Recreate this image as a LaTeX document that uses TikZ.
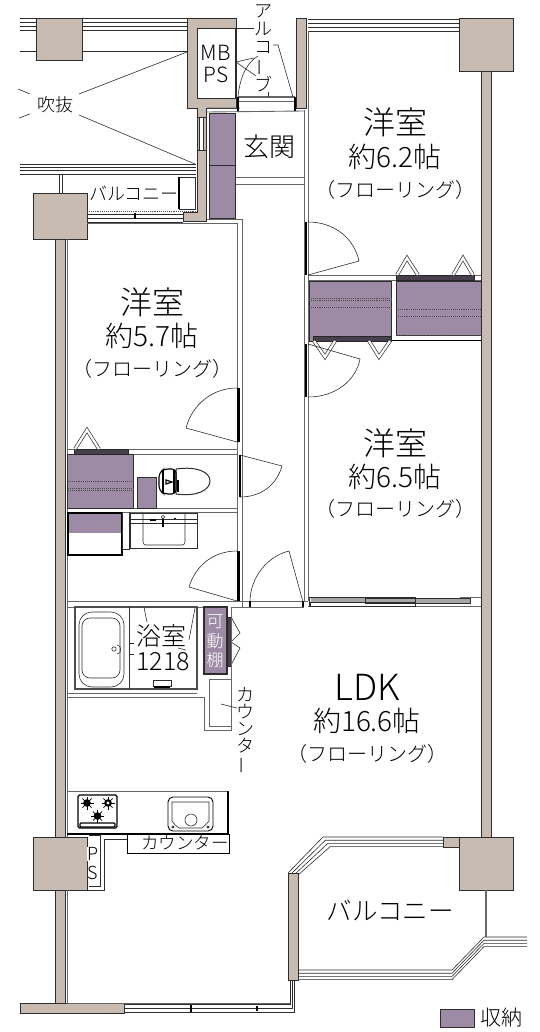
\documentclass[tikz,border=0pt]{standalone}
\usepackage{fontspec}
\setmainfont{Noto Sans CJK JP Light}
\usepackage{tikz}
\usetikzlibrary{calc,positioning}
\definecolor{wallcol}{RGB}{200,187,178}
\definecolor{storecol}{RGB}{157,139,166}
\definecolor{linecol}{RGB}{45,45,45}
\newcommand{\vbar}{\rotatebox[origin=c]{90}{ー}}
\tikzset{
  x=1pt, y=-1pt,
  wall/.style={fill=wallcol, draw=linecol, line width=0.8pt},
  store/.style={fill=storecol, draw=linecol, line width=0.9pt},
  fine/.style={draw=linecol, line width=0.6pt},
  thin wall/.style={draw=black!60, line width=0.9pt},
  heavy/.style={draw=black, line width=1.6pt},
  bar/.style={draw=black!85, fill=storecol!45!black, line width=0.5pt},
  folded/.style={draw=black!80, line width=0.7pt, double=white, double distance=2.2pt, line join=miter},
  dots/.style={draw=black!70, line width=0.9pt, densely dotted},
  room/.style={font=\fontsize{32}{32}\selectfont, inner sep=0pt},
  area/.style={font=\fontsize{28}{28}\selectfont, inner sep=0pt},
  floorlabel/.style={font=\fontsize{20}{20}\selectfont, inner sep=0pt},
  small/.style={font=\fontsize{18}{18}\selectfont, inner sep=0pt}
}
\begin{document}
\begin{tikzpicture}
  \useasboundingbox (0,0) rectangle (539,1032);

  % railings
  \foreach \d in {0,4,8,12} {
    \draw[fine] (20,18+\d) -- (187,18+\d);
    \draw[fine] (20,164+\d*.85) -- (196,164+\d*.85);
    \draw[fine] (308,19+\d) -- (459,19+\d);
    \draw[fine] (298,970+\d*.8) -- (452,970+\d*.8) -- (484,937+\d*.8) -- (527,937+\d*.8);
    \draw[fine] (288+\d*.75,873+\d*.25) -- (323+\d*.6,837+\d*.8) -- (443,837+\d*.8);
  }
  \draw[fine] (20,51) -- (187,51);
  \draw[fine] (59,174) -- (59,193) (62,174) -- (62,193);

  % walls and columns
  \foreach \cx/\cy/\cw/\ch in {36/18/46/42, 33/193/54/46, 459/18/54/53, 33/837/54/53, 459/837/54/53} {
    \path[wall] (\cx,\cy) rectangle ++(\cw,\ch);
  }
  \path[wall] (55,239) rectangle (65,837);
  \path[wall] (55,890) rectangle (65,1003);
  \path[wall] (481,71) rectangle (491,837);
  \path[wall] (20,1003) rectangle (124,1013);
  \path[wall] (288,873) rectangle (298,980);
  \path[wall] (443,837) -- (459,837) -- (459,847) -- (443,847) -- cycle;
  \path[wall] (296,18) -- (306,18) -- (306,108) -- (296,108) -- cycle;
  \path[wall] (187,18) -- (236,18) -- (236,108) -- (206,108) -- (206,221) -- (183,221)
    -- (183,212) -- (197,212) -- (197,108) -- (187,108) -- cycle;
  \path[fill=white, fine] (197,28) rectangle (235,98);
  \path[fill=white, fine] (199,117) rectangle (203,150);
  \draw[fine] (197,117) -- (206,117) (197,150) -- (206,150);
  \draw[draw=black!60, line width=2pt] (486,890) -- (486,937);

  % inner wall lines
  \draw[thin wall] (308,31) -- (308,601);
  \draw[thin wall] (304,110) -- (304,601);
  \draw[thin wall] (67,239) -- (67,837);
  \draw[thin wall] (237,223) -- (237,601);
  \draw[thin wall] (242,219) -- (242,607);
  \draw[thin wall] (67,890) -- (67,1003) -- (290,1003) -- (290,980);
  \draw[thin wall] (87,223) -- (237,223);
  \draw[thin wall] (207,219) -- (242,219);
  \draw[thin wall] (207,108) -- (240,108) (207,112) -- (304,111);
  \draw[thin wall] (236,177) -- (304,177) (236,184) -- (304,184);
  \draw[thin wall] (67,449) -- (237,449) (67,454) -- (237,454);
  \draw[thin wall] (67,508) -- (237,508) (67,512) -- (237,512);
  \draw[thin wall] (67,601) -- (304,601) (67,607) -- (203,607) (231,607) -- (304,607);
  \draw[thin wall] (308,275) -- (481,275) (308,280) -- (481,280);
  \draw[heavy, line width=.9pt] (392,340) -- (481,340);
  \draw[thin wall] (304,601) -- (308,601);
  \draw[thin wall] (308,606) -- (481,606) (460,597) -- (481,597);

  % bottom window line
  \foreach \d in {0,4,8} {
    \draw[fine] (124,1004+\d) -- (290+\d*.5,1004+\d) -- (290+\d*.5,980);
  }
  \draw[line width=2pt] (191,1005) -- (191,1012) (257,1006) -- (257,1011);

  % balcony at the north side
  \path[fill=white, fine, line width=.9pt] (179,177) rectangle (195,209);
  \draw[heavy] (179,177) -- (179,209);
  \draw[dots] (87,211) -- (196,211);
  \draw[fine] (87,214) -- (183,214) (87,218) -- (183,218);
  \draw[line width=2pt] (135,213) -- (135,219);
  \draw[fine] (87,222) -- (183,222);

  % alcove door
  \draw[thin wall, line width=1.4pt] (238,97) -- (295,97);
  \draw[thin wall] (238,101) -- (295,101);
  \draw[line width=1.6pt] (238,97) -- (238,111) (295,97) -- (295,111);
  \draw[fine] (238,97) .. controls (240,75) and (248,62) .. (258,56);

  % washstand and closet
  \draw[line width=1.4pt, fill=white] (68,513) rectangle (122,555);
  \draw[fine] (122,512) -- (122,549) -- (129,549) -- (129,512);
  \draw[fine] (130,513) rectangle (197,548);
  \draw[fine] (130,519) -- (197,519) (130,523) -- (197,523);
  \draw[fine, rounded corners=3pt] (143,513) -- (143,545) -- (185,545) -- (185,513);
  \draw[line width=2.5pt] (163,518) -- (163,527);
  \draw[fine, fill=white] (163,517) circle (1.8);
  \draw[line width=1.2pt] (150,520) -- (156,520) (174,518.5) -- (176,518.5);

  % storage
  \path[store] (209.5,113) rectangle (235.5,218);
  \draw[fine] (209.5,165.5) -- (235.5,165.5);
  \path[store] (309,281) rectangle (391,341);
  \path[store] (396,281) rectangle (481,335);
  \path[store] (67.5,454) rectangle (133,508);
  \path[store] (137,477) rectangle (156,508);
  \path[store, draw=none] (69,514) rectangle (121,533);
  \path[store, line width=1.6pt] (204,607) rectangle (227,674);
  \draw[dots] (309,298) -- (391,298) (309,300) -- (391,300) (309,307) -- (391,307);
  \draw[dots] (396,309) -- (481,309) (396,316) -- (481,316) (396,335) -- (481,335);
  \draw[dots] (68,481) -- (133,481) (68,488) -- (133,488) (68,490) -- (133,490);
  \path[bar] (313,336) rectangle (391,341);
  \path[bar] (396,275) rectangle (474,280);
  \path[bar] (74,449) rectangle (128,454);
  \path[bar] (227,617) rectangle (231,666);

  % folding doors
  \draw[folded] (397,275) -- (407,258) -- (418,275);
  \draw[folded] (453,275) -- (463,258) -- (473,275);
  \draw[folded] (314,341) -- (325,357) -- (335,341);
  \draw[folded] (369,341) -- (379,357) -- (390,341);
  \draw[folded] (75,449) -- (87,430) -- (99,449);
  \draw[fine] (231,617) -- (240,633) -- (231,642) -- (240,648) -- (231,665);

  % doors
  \draw[fine] (308,275) -- (359,261) .. controls (354,238) and (334,222) .. (308,222);
  \draw[fine] (308,344) -- (360,359) .. controls (356,380) and (336,397) .. (308,397);
  \draw[fine] (237,442) -- (186,428) .. controls (192,405) and (212,388) .. (237,388);
  \draw[fine] (240,455) -- (282,466) .. controls (277,484) and (262,497) .. (240,497);
  \draw[fine] (237,601) -- (189,587) .. controls (195,567) and (212,551) .. (237,551);
  \draw[fine] (303,602) -- (289,551) .. controls (268,556) and (250,577) .. (250,602);
  \draw[line width=2.2pt] (306,222) -- (306,275) (306,344) -- (306,397);
  \draw[line width=2.2pt] (238.5,388) -- (238.5,442) (240,455) -- (240,497) (238.5,551) -- (238.5,601);
  \draw[line width=2pt] (250,601) -- (250,607) (303,601) -- (303,607);

  % sliding door to the living room
  \path[fill=black!35] (311,598) rectangle (470,604);
  \draw[fine, line width=.9pt] (309,597) rectangle (415,606);
  \path[fill=white, fine, line width=.9pt] (310,602) rectangle (415,606);
  \draw[fine, line width=.9pt] (365,598) rectangle (470,603);

  % bath
  \draw[draw=black!70, line width=1.5pt] (75,607) rectangle (197,689);
  \draw[fine] (129,607) -- (129,689);
  \draw[fine, rounded corners=13pt] (79,612) -- (124,612) -- (124,687) -- (79,687) -- cycle;
  \draw[fine, rounded corners=8pt] (82,618) -- (120,618) -- (120,678) -- (82,678) -- cycle;
  \draw[fine, fill=white] (114,649) circle (2.2);
  \draw[fine] (117,645) .. controls (122,645) and (122,654) .. (117,654);
  \draw[fine] (129,643) -- (134,643) (129,654) -- (134,654);
  \draw[fine] (144,607) .. controls (145,613) and (146,617) .. (147,622);
  \draw[fine] (195,608) -- (189,640) (178,648) -- (186,650);
  \draw[fine, line width=1pt] (153,680) rectangle (171,686);
  \draw[line width=1.3pt] (154,687) -- (170,687);
  \draw[thin wall] (67,693) -- (197,693) (67,697) -- (204,697) -- (204,730) -- (231,730) -- (231,607);
  \draw[thin wall] (209,726) -- (209,679) -- (231,679) (209,726) -- (231,726);

  % toilet
  \draw[fine, line width=1pt, fill=white] (176,469) .. controls (197,466) and (210,472) .. (210,481)
    .. controls (210,490) and (197,497) .. (176,494) -- cycle;
  \draw[line width=1.1pt, rounded corners=4pt] (164,469) -- (176,469) -- (176,494) -- (164,494)
    -- (159,490) -- (159,473) -- cycle;
  \draw[line width=1.3pt] (163,470) -- (163,493) (174,470) -- (174,493);
  \draw[line width=2pt] (178,480) -- (178,492);
  \draw[line width=1.2pt] (166,480) -- (172,482) -- (166,484) -- cycle;

  % kitchen
  \draw[thin wall] (67,791) -- (228,791);
  \draw[line width=1.2pt] (228,791) -- (228,834) -- (67,834);
  \draw[line width=1.3pt, rounded corners=1.5pt] (78,795) rectangle (117,828);
  \draw[line width=1.3pt, rounded corners=1pt] (80,823) rectangle (115,827);
  \foreach \bx/\by in {87/803, 108/803, 97.5/816} {
    \foreach \a in {0,45,...,315} {
      \draw[line width=.7pt] (\bx,\by) -- ++(\a:6.5);
    }
    \fill[black] (\bx,\by) circle (3.8);
  }
  \fill[white] (108,803) circle (1.6);
  \draw[line width=.9pt, rounded corners=5pt] (168,797) -- (213,797) -- (213,831) -- (168,831) -- cycle;
  \draw[fine] (172,802) -- (209,802) -- (209,821) .. controls (207,824) and (204,826) .. (202,828)
    -- (179,828) .. controls (176,826) and (174,824) .. (172,821) -- cycle;
  \draw[fine] (191,820) circle (6);
  \draw[fine] (173,827) circle (1.1) (208,827) circle (1.1);

  % counter and pipe space
  \draw[line width=.9pt] (127,834) -- (127,853) -- (229,853) -- (229,834);
  \draw[fine] (87,890) -- (104,890) -- (104,839) -- (127,839);
  \draw[fine] (89,835) -- (100,835) -- (100,886) -- (89,886);

  % leader lines
  \draw[fine] (18,89) -- (30,94);
  \draw[fine] (19,118) -- (30,114);
  \draw[fine] (79,94) -- (187,52);
  \draw[fine] (79,115) -- (195,164);
  \draw[fine] (236,28) -- (256,28);
  \draw[fine] (236,62) -- (254,58) (236,62) -- (256,76);
  \draw[fine] (273,45) -- (278,45) -- (293,97);
  \draw[fine] (268,97) -- (268,91);
  \draw[fine] (221,704) -- (237,708);

  % labels
  \node[room] (room1) at (395,122) {洋室};
  \node[area] (area1) at (395,157) {約6.2帖};
  \node[floorlabel] (floor1) at (395,190) {（フローリング）};
  \node[room] (room2) at (152,302) {洋室};
  \node[area] (area2) at (152,336) {約5.7帖};
  \node[floorlabel] (floor2) at (152,369) {（フローリング）};
  \node[room] (room3) at (395,443) {洋室};
  \node[area] (area3) at (395,477) {約6.5帖};
  \node[floorlabel] (floor3) at (395,509) {（フローリング）};
  \node[room, font=\fontsize{36}{36}\selectfont] (ldk) at (367,687) {LDK};
  \node[area] (area4) at (367,721) {約16.6帖};
  \node[floorlabel] (floor4) at (367,754) {（フローリング）};
  \node[room, font=\fontsize{26}{26}\selectfont] (hall) at (269,147) {玄関};
  \node[small] (void) at (55,105) {吹抜};
  \node[small] (balcony1) at (134,193) {バルコニー};
  \node[room, font=\fontsize{25.5}{25.5}\selectfont] (balcony2) at (390,910) {バルコニー};
  \node[font=\fontsize{21}{21}\selectfont, inner sep=0pt] (mb) at (216,53) {MB};
  \node[font=\fontsize{21}{21}\selectfont, inner sep=0pt] (ps) at (216,75) {PS};
  \node[font=\fontsize{25}{25}\selectfont, inner sep=0pt] (bath) at (161,636) {浴室};
  \node[font=\fontsize{25}{25}\selectfont, inner sep=0pt] (bathsize) at (163,662) {1218};
  \node[small, font=\fontsize{17.5}{17.5}\selectfont, fill=white, inner sep=.5pt] (counter1) at (185,843) {カウンター};
  \foreach \c/\py [count=\n] in {可/622, 動/641, 棚/660} {
    \node[font=\fontsize{17}{17}\selectfont, text=white, inner sep=0pt] (shelf\n) at (215,\py) {\c};
  }
  \foreach \c/\py [count=\n] in {ア/11, ル/29, コ/47, \vbar/68, ブ/84} {
    \node[small, fill=white, inner sep=0pt] (alcove\n) at (263,\py) {\c};
  }
  \foreach \c/\py [count=\n] in {カ/695, ウ/712, ン/729, タ/746, \vbar/765} {
    \node[small] (counterv\n) at (245,\py) {\c};
  }
  \node[font=\fontsize{18}{18}\selectfont, inner sep=0pt, fill=white] (pspace1) at (93,854) {P};
  \node[font=\fontsize{18}{18}\selectfont, inner sep=0pt, fill=white] (pspace2) at (93,873) {S};

  % legend
  \path[store] (440,1009) rectangle (474,1027);
  \node[font=\fontsize{21}{21}\selectfont, inner sep=0pt] (legend) at (501,1018) {収納};
\end{tikzpicture}
\end{document}
